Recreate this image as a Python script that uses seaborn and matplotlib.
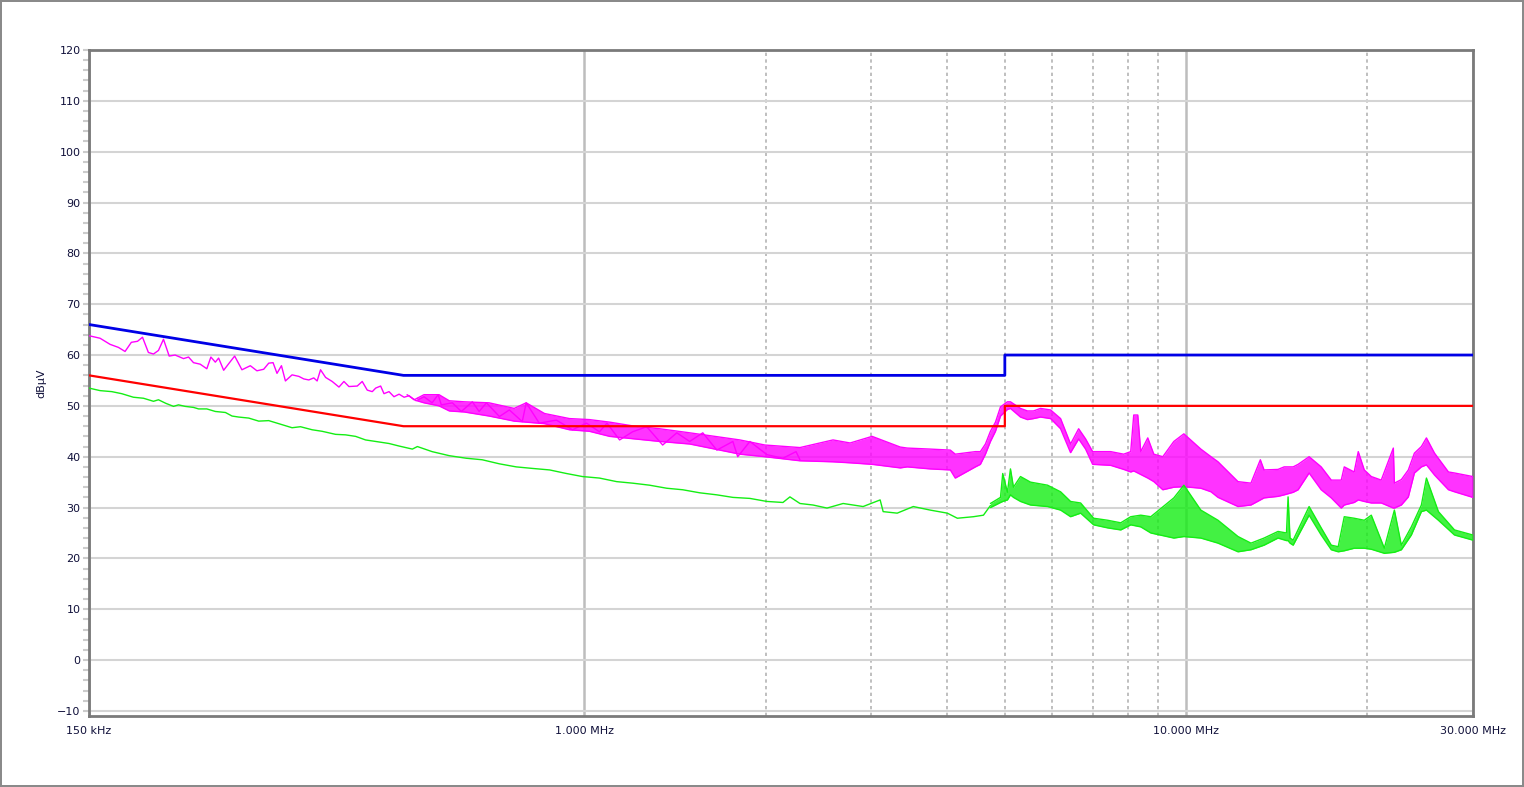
import numpy as np
import pandas as pd
import matplotlib
matplotlib.use("Agg")
import matplotlib.pyplot as plt
import seaborn as sns
from matplotlib.ticker import MultipleLocator, FixedLocator, NullFormatter

# Limit lines (MHz, dBuV)
limit_freq = [0.15, 0.5, 5.0, 5.0, 30.0]
qp_limit = [66, 56, 56, 60, 60]
av_limit = [56, 46, 46, 50, 50]

# Peak trace (magenta), thin jagged line below 0.53 MHz
pk_line_freq = [0.150, 0.1565, 0.1626, 0.1679, 0.1722, 0.1764, 0.1806, 0.1841, 0.1883, 0.1920,
                0.1957, 0.1995, 0.2039, 0.2086, 0.2154, 0.2196, 0.2238, 0.2296, 0.2355, 0.2392,
                0.2433, 0.2464, 0.2512, 0.2561, 0.2620, 0.2694, 0.2782, 0.2853, 0.2928, 0.2985,
                0.3035, 0.3081, 0.3134, 0.3182, 0.3264, 0.3350, 0.3414, 0.3480, 0.3547, 0.3593,
                0.3640, 0.3711, 0.3806, 0.3906, 0.3981, 0.4058, 0.4189, 0.4270, 0.4353, 0.4437,
                0.4496, 0.4582, 0.4641, 0.4731, 0.4822, 0.4917, 0.5012, 0.5109, 0.5207, 0.5274]
pk_line_level = [63.8, 63.3, 62.1, 61.5, 60.7, 62.5, 62.7, 63.5, 60.5, 60.2,
                 60.9, 63.1, 59.8, 60.0, 59.3, 59.6, 58.5, 58.2, 57.3, 59.6,
                 58.6, 59.4, 57.0, 58.3, 59.8, 57.1, 57.9, 56.9, 57.2, 58.4,
                 58.5, 56.4, 57.9, 54.9, 56.1, 55.8, 55.3, 55.1, 55.5, 54.9,
                 57.1, 55.6, 54.8, 53.7, 54.8, 53.8, 53.9, 54.8, 53.1, 52.8,
                 53.5, 53.9, 52.4, 52.8, 51.8, 52.3, 51.7, 52.0, 51.2, 51.5]

# Peak trace, jagged sweep points 0.5 - 2.3 MHz
pk_jag_freq = [0.507, 0.525, 0.541, 0.558, 0.571, 0.578, 0.603, 0.624, 0.651, 0.668,
               0.687, 0.722, 0.750, 0.788, 0.800, 0.841, 0.898, 0.955, 1.008, 1.059,
               1.090, 1.144, 1.202, 1.269, 1.349, 1.424, 1.496, 1.573, 1.660, 1.765,
               1.798, 1.884, 2.011, 2.138, 2.248, 2.282]
pk_jag_level = [52.2, 51.0, 51.8, 50.6, 52.2, 50.2, 50.6, 48.9, 50.8, 48.9,
                50.6, 47.9, 49.2, 46.9, 50.6, 46.6, 47.2, 45.3, 46.6, 44.9,
                46.6, 43.3, 44.9, 45.9, 42.3, 44.7, 43.0, 44.7, 41.3, 43.0,
                40.0, 43.0, 40.4, 39.7, 41.0, 39.4]

# Peak trace, noisy band above 0.53 MHz (upper / lower envelope)
pk_band_freq = [0.527, 0.541, 0.573, 0.596, 0.631, 0.694, 0.764, 0.800, 0.858, 0.944,
                1.019, 1.101, 1.212, 1.334, 1.496, 1.647, 1.813, 1.995, 2.282, 2.590,
                2.765, 3.008, 3.350, 3.441, 3.758, 4.058, 4.136, 4.467, 4.553, 4.642,
                4.732, 4.824, 4.918, 5.050, 5.109, 5.309, 5.453, 5.580, 5.732, 5.957,
                6.190, 6.431, 6.633, 6.812, 6.998, 7.499, 7.882, 8.097, 8.191, 8.318,
                8.414, 8.643, 8.845, 9.155, 9.550, 9.924, 10.59, 11.01, 11.31, 12.21,
                12.83, 13.30, 13.49, 14.23, 14.57, 15.08, 15.37, 16.03, 16.79, 17.45,
                18.13, 18.34, 19.05, 19.35, 19.80, 20.34, 21.13, 22.13, 22.22, 22.82,
                23.44, 23.99, 24.64, 25.12, 25.91, 27.33, 27.97, 30.0]
pk_band_upper = [51.5, 52.2, 52.2, 51.0, 50.8, 50.6, 49.5, 50.6, 48.5, 47.5,
                 47.3, 46.8, 46.0, 45.5, 44.7, 44.0, 43.3, 42.3, 41.8, 43.3,
                 42.7, 44.0, 41.9, 41.7, 41.5, 41.3, 40.5, 41.0, 41.0, 42.5,
                 45.0, 46.8, 49.8, 50.8, 50.8, 49.5, 49.0, 49.0, 49.5, 49.2,
                 47.5, 42.5, 45.5, 43.5, 41.0, 41.0, 40.5, 41.0, 48.2, 48.2,
                 41.0, 43.7, 40.5, 40.0, 43.0, 44.5, 41.5, 40.0, 39.0, 35.1,
                 34.8, 39.4, 37.4, 37.5, 38.0, 38.0, 38.5, 40.0, 38.0, 35.4,
                 35.4, 38.0, 37.0, 41.0, 37.4, 36.1, 35.4, 41.7, 34.8, 35.5,
                 37.4, 40.7, 42.0, 43.7, 40.7, 37.0, 36.8, 36.1]
pk_band_lower = [51.0, 50.6, 50.0, 49.0, 48.8, 48.0, 47.0, 46.8, 46.5, 45.3,
                 45.0, 44.0, 43.5, 43.0, 42.5, 41.5, 40.5, 40.0, 39.2, 39.0,
                 38.8, 38.5, 37.8, 38.0, 37.6, 37.4, 35.8, 38.0, 38.5, 40.5,
                 43.0, 45.0, 48.0, 49.3, 49.5, 47.8, 47.3, 47.5, 47.8, 47.5,
                 45.5, 40.8, 43.5, 41.5, 38.5, 38.3, 37.5, 37.0, 37.2, 36.8,
                 36.5, 35.8, 35.1, 33.5, 34.0, 34.1, 33.8, 33.1, 32.0, 30.2,
                 30.5, 31.5, 31.9, 32.2, 32.5, 33.0, 33.5, 36.8, 33.5, 31.9,
                 29.9, 30.5, 31.0, 31.5, 31.2, 30.9, 30.9, 29.9, 29.9, 30.5,
                 32.1, 36.8, 38.0, 38.4, 36.4, 33.5, 33.1, 32.0]

# Average trace (green), single line below 4.75 MHz
av_line_freq = [0.150, 0.1565, 0.1637, 0.1700, 0.1778, 0.1848, 0.1920, 0.1957, 0.2013, 0.2073,
                0.2113, 0.2168, 0.2238, 0.2282, 0.2355, 0.2433, 0.2529, 0.2594, 0.2661, 0.2765,
                0.2873, 0.2985, 0.3102, 0.3264, 0.3371, 0.3525, 0.3662, 0.3855, 0.4006, 0.4163,
                0.4325, 0.4496, 0.4731, 0.4917, 0.5174, 0.5274, 0.558, 0.596, 0.636, 0.676,
                0.722, 0.770, 0.819, 0.875, 0.933, 0.992, 1.059, 1.131, 1.202, 1.283,
                1.370, 1.457, 1.555, 1.660, 1.765, 1.884, 2.011, 2.138, 2.196, 2.282,
                2.399, 2.531, 2.692, 2.906, 3.102, 3.138, 3.311, 3.522, 3.758, 4.012,
                4.169, 4.433, 4.607, 4.732]
av_line_level = [53.5, 53.0, 52.8, 52.4, 51.7, 51.5, 50.9, 51.2, 50.5, 49.9,
                 50.2, 49.9, 49.7, 49.4, 49.4, 48.9, 48.7, 48.0, 47.8, 47.6,
                 47.0, 47.1, 46.5, 45.7, 45.9, 45.3, 45.0, 44.4, 44.3, 44.0,
                 43.3, 43.0, 42.6, 42.1, 41.5, 42.0, 41.0, 40.2, 39.7, 39.4,
                 38.6, 38.0, 37.7, 37.4, 36.7, 36.1, 35.8, 35.1, 34.8, 34.4,
                 33.8, 33.5, 32.9, 32.5, 32.0, 31.8, 31.2, 31.0, 32.1, 30.8,
                 30.5, 29.9, 30.8, 30.2, 31.5, 29.2, 28.9, 30.2, 29.5, 28.9,
                 27.9, 28.2, 28.5, 30.4]

# Average trace, noisy band above 4.7 MHz
av_band_freq = [4.732, 4.918, 4.960, 5.050, 5.109, 5.168, 5.309, 5.516, 5.888, 6.190,
                6.431, 6.683, 7.025, 7.413, 7.793, 8.097, 8.414, 8.744, 9.550, 9.924,
                10.59, 11.31, 12.21, 12.83, 13.49, 14.23, 14.70, 14.79, 14.90, 15.08,
                16.03, 16.79, 17.45, 17.92, 18.34, 19.05, 19.80, 20.34, 21.38, 22.22,
                22.82, 23.71, 24.64, 25.12, 26.30, 27.97, 30.0]
av_band_upper = [30.8, 32.0, 36.7, 33.0, 37.6, 34.0, 36.1, 35.0, 34.4, 33.1,
                 31.2, 30.9, 27.9, 27.5, 27.0, 28.2, 28.5, 28.2, 31.9, 34.4,
                 29.5, 27.5, 24.3, 23.0, 24.0, 25.3, 25.0, 32.1, 24.0, 23.6,
                 30.2, 26.0, 22.6, 22.3, 28.2, 27.9, 27.5, 28.5, 22.0, 29.5,
                 22.6, 26.2, 30.5, 35.8, 29.2, 25.6, 24.6]
av_band_lower = [30.0, 31.0, 31.2, 31.5, 32.5, 32.0, 31.2, 30.5, 30.2, 29.5,
                 28.2, 28.9, 26.6, 26.0, 25.6, 26.6, 26.2, 25.0, 24.0, 24.3,
                 24.0, 23.0, 21.3, 21.7, 22.6, 24.0, 23.5, 23.5, 23.0, 22.6,
                 28.5, 24.6, 21.7, 21.3, 21.5, 22.0, 22.0, 21.8, 21.0, 21.2,
                 21.7, 24.6, 29.2, 29.5, 27.5, 24.6, 23.6]

MAGENTA = "#ff00ff"
GREEN = "#14ee14"
BLUE = "#0000e6"
RED = "#ff0000"
TEXT = "#10103a"

sns.set_theme(style="white")
plt.rcParams["font.family"] = ["DejaVu Sans"]

fig = plt.figure(figsize=(15.24, 7.87), dpi=100)
fig.patch.set_edgecolor("#8a8a8a")
fig.patch.set_linewidth(1.5)
ax = fig.add_axes([0.0584, 0.0902, 0.908, 0.8463])


def band(freq, upper, lower, color, lw):
    ax.fill_between(freq, lower, upper, color=color, alpha=0.8, linewidth=0, zorder=3)
    sns.lineplot(x=freq, y=upper, color=color, lw=lw, estimator=None, sort=False, ax=ax, zorder=3)
    sns.lineplot(x=freq, y=lower, color=color, lw=lw, estimator=None, sort=False, ax=ax, zorder=3)


# Measured traces
sns.lineplot(x=pk_line_freq, y=pk_line_level, color=MAGENTA, lw=1.0, estimator=None, sort=False, ax=ax, zorder=3)
band(pk_band_freq, pk_band_upper, pk_band_lower, MAGENTA, 1.0)
sns.lineplot(x=pk_jag_freq, y=pk_jag_level, color=MAGENTA, lw=1.0, estimator=None, sort=False, ax=ax, zorder=3)
sns.lineplot(x=av_line_freq, y=av_line_level, color=GREEN, lw=1.0, estimator=None, sort=False, ax=ax, zorder=3)
band(av_band_freq, av_band_upper, av_band_lower, GREEN, 1.0)

# Limit lines
limits = pd.DataFrame({"freq": limit_freq, "qp": qp_limit, "av": av_limit})
sns.lineplot(data=limits, x="freq", y="qp", color=BLUE, lw=2.0, estimator=None, sort=False, ax=ax, zorder=4)
sns.lineplot(data=limits, x="freq", y="av", color=RED, lw=1.6, estimator=None, sort=False, ax=ax, zorder=4)

ax.set_xscale("log")
ax.set_xlim(0.15, 30)
ax.set_ylim(-11, 120)

ax.set_xticks([0.15, 1, 10, 30])
ax.set_xticklabels(["150 kHz", "1.000 MHz", "10.000 MHz", "30.000 MHz"])
ax.xaxis.set_minor_locator(FixedLocator([2, 3, 4, 5, 6, 7, 8, 9, 20]))
ax.xaxis.set_minor_formatter(NullFormatter())
ax.yaxis.set_major_locator(MultipleLocator(10))
ax.yaxis.set_minor_locator(MultipleLocator(2))

ax.set_axisbelow(True)
ax.yaxis.grid(True, which="major", color="#d4d4d4", lw=1.5)
ax.xaxis.grid(True, which="major", color="#bdbdbd", lw=1.8)
ax.xaxis.grid(True, which="minor", color="#b4b4b4", lw=1.2, ls=(0, (2, 2)))

ax.tick_params(axis="x", which="both", length=0, pad=7, labelsize=8, labelcolor=TEXT)
ax.tick_params(axis="y", which="both", left=True, length=4, width=1.5, color="#cccccc",
               pad=2, labelsize=8, labelcolor=TEXT)

for s in ax.spines.values():
    s.set_color("#7a7a7a")
    s.set_linewidth(2)

ax.set_xlabel("")
ax.set_ylabel("dBµV", fontsize=8, color=TEXT, labelpad=8)

fig.savefig("out.png", dpi=100, edgecolor=fig.get_edgecolor())
